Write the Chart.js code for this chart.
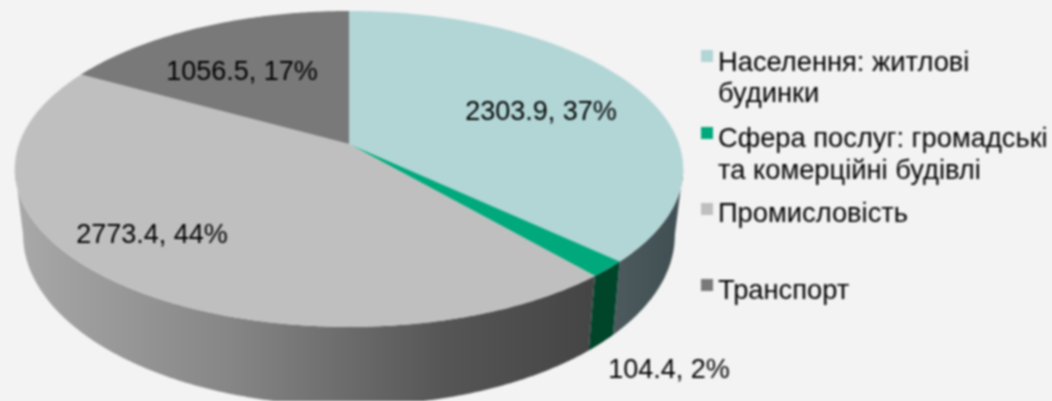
<!DOCTYPE html>
<html><head><meta charset="utf-8">
<style>html,body{margin:0;padding:0;background:#f3f3f3;overflow:hidden}
#w{width:1052px;height:401px;filter:blur(0.8px)}</style>
<script src="https://cdn.jsdelivr.net/npm/chart.js@4"></script>
</head><body><div id="w"><canvas id="c" width="1052" height="401"></canvas></div>
<script>
const categories = ["Населення: житлові будинки","Сфера послуг: громадські та комерційні будівлі","Промисловість","Транспорт"];
const values = [2303.9,104.4,2773.4,1056.5];
const topColors = ["#b2d5d6","#00a97c","#bfbfbf","#797979"];
const legendLines = [["Населення: житлові","будинки"],["Сфера послуг: громадські","та комерційні будівлі"],["Промисловість"],["Транспорт"]];

// Drawing style: perspective of the disc, placement of text
const P = {cx:349, cy:144, A:330, B:154, b:0.158, sx:0.975, D:64, s:1.08};
const labelAt = [[541,113],[669,371],[152,236],[242,73]];
const legendRows = [{mark:50,y:[63,94]},{mark:127,y:[139,171]},{mark:203,y:[214]},{mark:279,y:[291]}];
const FONT = '"Liberation Sans", Arial, sans-serif';

function rimTop(a){const X=Math.cos(a),Y=Math.sin(a),w=1-P.b*Y;
  return [P.cx+P.A*X/w, P.cy+P.B*Y/w];}
function rimBottom(a){const X=Math.cos(a),Y=Math.sin(a),w=1-P.b*Y;
  return [P.cx+P.sx*P.A*X/w, P.cy+P.D+P.s*P.B*Y/w];}
function wallFill(ctx,i){
  if(i===1) return "#00442a";
  const g=ctx.createLinearGradient(14,0,683,0);
  if(i===0){g.addColorStop(0.9,"#4c5a5d");g.addColorStop(1,"#3f4e52");return g;}
  g.addColorStop(0,"#a9a9a9");g.addColorStop(0.33,"#858585");g.addColorStop(0.5,"#6b6b6b");
  g.addColorStop(0.64,"#565656");g.addColorStop(0.86,"#454545");g.addColorStop(1,"#454545");
  return g;
}
const disc3d = {
  id:"disc3d",
  beforeDatasetsDraw(chart){
    const ctx=chart.ctx, arcs=chart.getDatasetMeta(0).data, step=Math.PI/360;
    const tangent=Math.asin(P.b), lo=tangent, hi=Math.PI-tangent;
    ctx.save();
    arcs.forEach((arc,i)=>{
      const s=Math.max(arc.startAngle,lo), e=Math.min(arc.endAngle,hi);
      if(e<=s) return;
      ctx.beginPath();
      for(let a=s;a<e;a+=step){const p=rimTop(a);ctx.lineTo(p[0],p[1]);}
      let p=rimTop(e);ctx.lineTo(p[0],p[1]);
      for(let a=e;a>s;a-=step){const q=rimBottom(a);ctx.lineTo(q[0],q[1]);}
      p=rimBottom(s);ctx.lineTo(p[0],p[1]);
      ctx.closePath();
      ctx.fillStyle=wallFill(ctx,i);ctx.fill();
    });
    arcs.forEach((arc,i)=>{
      ctx.beginPath();ctx.moveTo(P.cx,P.cy);
      for(let a=arc.startAngle;a<arc.endAngle;a+=step){const p=rimTop(a);ctx.lineTo(p[0],p[1]);}
      const p=rimTop(arc.endAngle);ctx.lineTo(p[0],p[1]);
      ctx.closePath();
      ctx.fillStyle=topColors[i];ctx.fill();
    });
    const total=values.reduce((x,y)=>x+y,0);
    ctx.fillStyle="#000";ctx.textAlign="center";ctx.textBaseline="middle";
    ctx.font='27px '+FONT;
    values.forEach((v,i)=>{
      ctx.fillText(v.toFixed(1)+", "+Math.round(v/total*100)+"%",labelAt[i][0],labelAt[i][1]);
    });
    ctx.textAlign="left";ctx.font='27.3px '+FONT;
    legendLines.forEach((lines,i)=>{
      const r=legendRows[i];
      ctx.fillStyle=topColors[i];ctx.fillRect(701,r.mark,12,12);
      ctx.fillStyle="#000";
      lines.forEach((t,j)=>ctx.fillText(t,718,r.y[j]));
    });
    ctx.restore();
    return false;
  }
};
new Chart(document.getElementById("c"),{
  type:"pie",
  data:{labels:categories,datasets:[{data:values,backgroundColor:topColors,borderWidth:0}]},
  options:{responsive:false,animation:false,plugins:{legend:{display:false},tooltip:{enabled:false}}},
  plugins:[disc3d]
});
</script></body></html>
